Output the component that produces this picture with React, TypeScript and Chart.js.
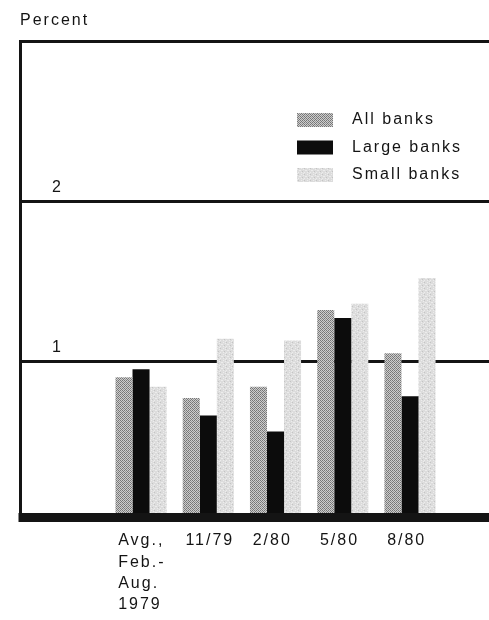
import { useEffect, useRef } from 'react';
import { Chart, registerables } from 'chart.js';

Chart.register(...registerables);

// ---- data ----
const categories: (string | string[])[] = [['Avg.,', 'Feb.-', 'Aug.', '1979'], '11/79', '2/80', '5/80', '8/80'];
const seriesNames = ['All banks', 'Large banks', 'Small banks'];
const allBanks = [0.9, 0.77, 0.84, 1.32, 1.05];
const largeBanks = [0.95, 0.66, 0.56, 1.27, 0.78];
const smallBanks = [0.84, 1.14, 1.13, 1.36, 1.52];
const yTickValues = [0, 1, 2, 3];
const yTickLabels = ['', '1', '2', ''];
const yAxisTitle = 'Percent';

const FONT = '"Liberation Sans", Arial, Helvetica, sans-serif';
const INK = '#141414';
// labels start slightly right of each group's left edge (in category units)
const LABEL_SHIFT = 0.34;

function makePattern(cells: string[][]): CanvasPattern | string {
  const c = document.createElement('canvas');
  c.width = cells[0].length;
  c.height = cells.length;
  const g = c.getContext('2d');
  if (!g) return '#999';
  cells.forEach((row, y) =>
    row.forEach((col, x) => {
      g.fillStyle = col;
      g.fillRect(x, y, 1, 1);
    })
  );
  return g.createPattern(c, 'repeat') || '#999';
}

export default function App() {
  const ref = useRef<HTMLCanvasElement | null>(null);

  useEffect(() => {
    if (!ref.current) return;
    const D = '#767676';
    const L = '#cdcdcd';
    const allPat = makePattern([
      [D, L, D, L],
      [L, D, L, '#969696'],
      [D, L, D, L],
      [L, '#969696', L, D],
    ]);
    const S = '#dcdcdc';
    const s2 = '#c4c4c4';
    const s3 = '#ececec';
    const smallPat = makePattern([
      [S, s3, S, S, s2, S],
      [S, S, S, s3, S, S],
      [s3, S, S, S, S, s3],
      [S, S, s2, S, S, S],
      [S, s3, S, S, s3, S],
      [S, S, S, s3, S, S],
    ]);
    const colors = [allPat, '#0c0c0c', smallPat];
    const series = [allBanks, largeBanks, smallBanks];

    const framePlugin = {
      id: 'frame',
      beforeLayout(chart: any) {
        chart.ctx.letterSpacing = '2px';
      },
      beforeDraw(chart: any) {
        chart.ctx.letterSpacing = '2px';
      },
      afterDatasetsDraw(chart: any) {
        const { ctx, chartArea } = chart;
        const y0 = chart.scales.y.getPixelForValue(0);
        ctx.save();
        ctx.fillStyle = INK;
        ctx.fillRect(chartArea.left - 1.5, y0 - 8, chartArea.right - chartArea.left + 1.5, 9);
        ctx.restore();
      },
      afterDraw(chart: any) {
        const { ctx } = chart;
        ctx.save();
        ctx.letterSpacing = '2px';
        ctx.font = `16px ${FONT}`;
        ctx.fillStyle = INK;
        ctx.textAlign = 'left';
        ctx.textBaseline = 'alphabetic';
        ctx.fillText(yAxisTitle, 20, 25);
        chart.data.datasets.forEach((ds: any, i: number) => {
          const cy = 120 + i * 27.5;
          ctx.fillStyle = ds.backgroundColor;
          ctx.fillRect(297, cy - 7, 36, 14);
          ctx.fillStyle = INK;
          ctx.textBaseline = 'middle';
          ctx.fillText(ds.label, 352, cy);
        });
        ctx.restore();
      },
    };

    const chart = new Chart(ref.current, {
      type: 'bar',
      data: {
        datasets: series.map((vals, si) => ({
          label: seriesNames[si],
          data: vals.map((v, i) => ({ x: i, y: v })),
          backgroundColor: colors[si] as any,
          borderWidth: 0,
          categoryPercentage: 0.76,
          barPercentage: 1,
        })),
      },
      options: {
        animation: false,
        responsive: true,
        maintainAspectRatio: false,
        layout: { padding: { top: 38, left: 20, right: 0, bottom: 0 } },
        plugins: {
          legend: { display: false },
          tooltip: { enabled: false },
          title: { display: false },
        },
        scales: {
          x: {
            type: 'linear',
            offset: false,
            min: -1.8,
            max: 5.175,
            grid: { display: false, drawTicks: false, tickLength: 0, offset: false },
            border: { display: false },
            afterBuildTicks: (s: any) => {
              s.ticks = categories.map((_, i) => ({ value: i - LABEL_SHIFT }));
            },
            afterFit: (s: any) => {
              s.height = 99;
            },
            ticks: {
              align: 'start',
              padding: 9,
              maxRotation: 0,
              minRotation: 0,
              autoSkip: false,
              color: INK,
              font: { family: FONT, size: 16, lineHeight: 1.34 },
              callback: (v: any) => categories[Math.round(Number(v))] ?? '',
            },
          },
          y: {
            min: 0,
            max: 3,
            afterFit: (s: any) => {
              s.width = 0;
            },
            afterBuildTicks: (s: any) => {
              s.ticks = yTickValues.map((v) => ({ value: v }));
            },
            grid: {
              color: INK,
              lineWidth: (c: any) => (c.tick && c.tick.value === 0 ? 0 : 3),
              drawTicks: false,
              tickLength: 0,
            },
            border: { display: true, color: INK, width: 3 },
            ticks: {
              mirror: true,
              padding: 32,
              labelOffset: -14,
              color: INK,
              font: { family: FONT, size: 16 },
              callback: (v: any) => yTickLabels[yTickValues.indexOf(Number(v))] ?? '',
            },
          },
        },
      },
      plugins: [framePlugin],
    } as any);

    return () => chart.destroy();
  }, []);

  return (
    <div style={{ position: 'absolute', left: 0, top: 0, width: 489, height: 620, background: '#fff' }}>
      <canvas ref={ref} />
    </div>
  );
}
